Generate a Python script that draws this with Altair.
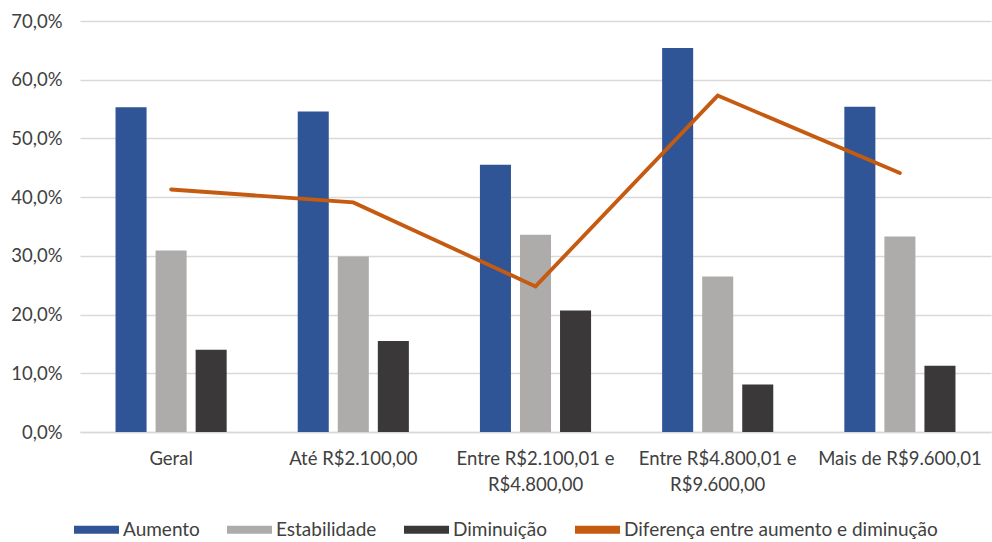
import altair as alt
import pandas as pd

categorias = ["Geral", "Até R$2.100,00", "Entre R$2.100,01 e R$4.800,00",
              "Entre R$4.800,01 e R$9.600,00", "Mais de R$9.600,01"]
series = ["Aumento", "Estabilidade", "Diminuição"]
aumento = [55.3, 54.6, 45.5, 65.4, 55.4]
estabilidade = [30.9, 29.9, 33.6, 26.5, 33.3]
diminuicao = [14.0, 15.5, 20.7, 8.1, 11.3]
diferenca = [41.3, 39.1, 24.8, 57.3, 44.1]
serie_linha = "Diferença entre aumento e diminução"

cores = ["#2F5597", "#AEABAB", "#3A3838", "#C55A11"]
FONT = "Lato"
TXT = "#404040"
FS = 18.5

rows = []
for i, c in enumerate(categorias):
    for s, vals in zip(series, [aumento, estabilidade, diminuicao]):
        rows.append({"categoria": c, "serie": s, "valor": vals[i]})
bars_df = pd.DataFrame(rows)
line_df = pd.DataFrame({"categoria": categorias, "valor": diferenca,
                        "serie": [serie_linha] * len(categorias)})

color_scale = alt.Scale(domain=series + [serie_linha], range=cores)
legend = alt.Legend(
    title=None, orient="none", direction="horizontal",
    legendX=-6, legendY=486,
    symbolType="M-1,-0.18L1,-0.18L1,0.18L-1,0.18Z", symbolSize=2025,
    symbolStrokeWidth=0, labelFont=FONT, labelFontSize=19, labelColor=TXT,
    labelOffset=4, columnPadding=27, padding=0, labelLimit=400,
)

x_enc = alt.X(
    "categoria:N", sort=categorias, title=None,
    scale=alt.Scale(paddingInner=0.39, paddingOuter=0.195),
    axis=alt.Axis(
        labelAngle=0, labelFont=FONT, labelFontSize=FS, labelColor=TXT,
        labelPadding=17, labelLineHeight=26, labelLimit=300, grid=False,
        ticks=False, domain=True, domainColor="#D9D9D9", domainWidth=1.5,
        labelExpr="indexof(datum.label, ' e ') > 0 ? [slice(datum.label, 0, indexof(datum.label, ' e ') + 2), slice(datum.label, indexof(datum.label, ' e ') + 3)] : datum.label",
    ),
)
y_enc = alt.Y(
    "valor:Q", title=None,
    scale=alt.Scale(domain=[0, 70], nice=False),
    axis=alt.Axis(
        values=[0, 10, 20, 30, 40, 50, 60, 70],
        labelExpr="replace(format(datum.value, '.1f'), '.', ',') + '%'",
        labelFont=FONT, labelFontSize=FS, labelColor=TXT, labelPadding=18,
        ticks=False, domain=False, gridColor="#D9D9D9", gridWidth=1.5,
    ),
)

bars = alt.Chart(bars_df).mark_bar().encode(
    x=x_enc,
    xOffset=alt.XOffset("serie:N", sort=series,
                        scale=alt.Scale(paddingInner=0.225, paddingOuter=0)),
    y=y_enc,
    color=alt.Color("serie:N", scale=color_scale, legend=legend),
)

line = alt.Chart(line_df).mark_line(strokeWidth=3.8, strokeCap="round").encode(
    x=alt.X("categoria:N", sort=categorias),
    y=alt.Y("valor:Q"),
    color=alt.Color("serie:N", scale=color_scale, legend=legend),
)

chart = alt.layer(bars, line).properties(
    width=911, height=411, background="white",
    autosize=alt.AutoSizeParams(type="none"),
    padding={"left": 80, "top": 21, "right": 1, "bottom": 110},
).configure_view(stroke=None).configure_axisX(grid=False)

chart.save("out.html", embed_options={"renderer": "svg", "actions": False})
